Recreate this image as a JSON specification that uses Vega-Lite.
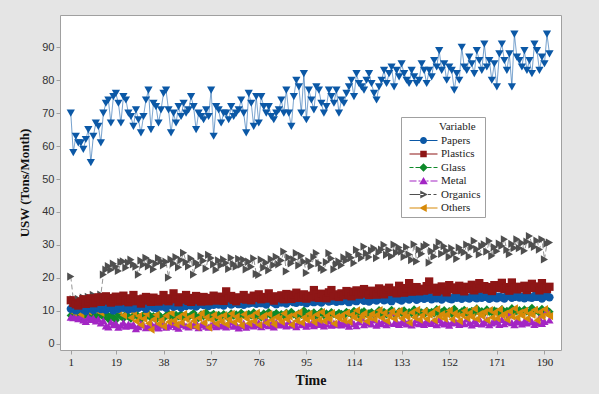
{
  "$schema": "https://vega.github.io/schema/vega-lite/v6.json",
  "width": 501,
  "height": 335,
  "autosize": {"type": "none"},
  "padding": {"left": 60, "top": 15, "right": 38, "bottom": 44},
  "background": "#e5e5e5",
  "config": {"view": {"fill": "white", "stroke": "#a0a0a0", "strokeWidth": 1}},
  "data": {"values": [
{"t":1,"Papers":10.6,"Plastics":13.2,"Glass":8.6,"Metal":8.1,"Organics":20.4,"Others":12.8,"Total":70},
{"t":2,"Papers":11.2,"Plastics":12.4,"Glass":9.1,"Metal":7.9,"Organics":13.5,"Others":9.5,"Total":58},
{"t":3,"Papers":10.1,"Plastics":12.0,"Glass":8.2,"Metal":8.3,"Organics":12.8,"Others":11.6,"Total":63},
{"t":4,"Papers":10.8,"Plastics":11.6,"Glass":8.9,"Metal":7.6,"Organics":13.6,"Others":13.1,"Total":61},
{"t":5,"Papers":11.5,"Plastics":12.8,"Glass":7.8,"Metal":8.4,"Organics":12.4,"Others":8.9,"Total":61},
{"t":6,"Papers":10.4,"Plastics":13.5,"Glass":8.5,"Metal":7.2,"Organics":14.0,"Others":10.7,"Total":59},
{"t":7,"Papers":9.9,"Plastics":12.1,"Glass":9.3,"Metal":6.8,"Organics":12.9,"Others":12.4,"Total":62},
{"t":8,"Papers":10.9,"Plastics":12.9,"Glass":8.0,"Metal":8.0,"Organics":14.2,"Others":9.8,"Total":65},
{"t":9,"Papers":11.3,"Plastics":13.8,"Glass":8.7,"Metal":7.4,"Organics":13.1,"Others":11.9,"Total":55},
{"t":10,"Papers":10.2,"Plastics":12.3,"Glass":9.0,"Metal":7.8,"Organics":14.8,"Others":13.3,"Total":63},
{"t":11,"Papers":10.7,"Plastics":13.0,"Glass":7.6,"Metal":6.9,"Organics":13.7,"Others":10.2,"Total":67},
{"t":12,"Papers":11.1,"Plastics":14.1,"Glass":8.4,"Metal":7.5,"Organics":12.6,"Others":12.0,"Total":66},
{"t":13,"Papers":10.5,"Plastics":12.7,"Glass":8.9,"Metal":6.3,"Organics":14.9,"Others":9.4,"Total":61},
{"t":14,"Papers":11.0,"Plastics":13.6,"Glass":8.1,"Metal":7.0,"Organics":21.0,"Others":11.5,"Total":70},
{"t":15,"Papers":10.3,"Plastics":14.4,"Glass":9.2,"Metal":5.4,"Organics":22.5,"Others":13.6,"Total":73},
{"t":16,"Papers":11.6,"Plastics":13.1,"Glass":7.5,"Metal":5.1,"Organics":23.6,"Others":14.0,"Total":74},
{"t":17,"Papers":10.8,"Plastics":12.5,"Glass":8.6,"Metal":6.6,"Organics":22.4,"Others":12.2,"Total":67},
{"t":18,"Papers":10.1,"Plastics":13.9,"Glass":8.0,"Metal":5.8,"Organics":24.3,"Others":10.8,"Total":75},
{"t":19,"Papers":11.4,"Plastics":14.3,"Glass":7.2,"Metal":6.2,"Organics":23.4,"Others":13.5,"Total":76},
{"t":20,"Papers":10.6,"Plastics":12.8,"Glass":8.8,"Metal":5.0,"Organics":22.1,"Others":9.9,"Total":73},
{"t":21,"Papers":11.2,"Plastics":13.4,"Glass":8.3,"Metal":5.6,"Organics":24.8,"Others":11.7,"Total":67},
{"t":22,"Papers":10.9,"Plastics":14.6,"Glass":7.7,"Metal":6.4,"Organics":25.0,"Others":8.6,"Total":75},
{"t":23,"Papers":11.7,"Plastics":13.0,"Glass":8.9,"Metal":5.3,"Organics":23.1,"Others":12.9,"Total":74},
{"t":24,"Papers":10.4,"Plastics":12.6,"Glass":8.2,"Metal":6.0,"Organics":24.6,"Others":10.3,"Total":70},
{"t":25,"Papers":11.1,"Plastics":13.8,"Glass":7.6,"Metal":5.5,"Organics":25.5,"Others":7.9,"Total":69},
{"t":26,"Papers":10.7,"Plastics":14.8,"Glass":8.5,"Metal":5.9,"Organics":24.1,"Others":9.6,"Total":66},
{"t":27,"Papers":11.5,"Plastics":12.9,"Glass":9.1,"Metal":4.6,"Organics":23.4,"Others":6.8,"Total":71},
{"t":28,"Papers":10.9,"Plastics":13.5,"Glass":8.0,"Metal":5.2,"Organics":21.0,"Others":8.4,"Total":68},
{"t":29,"Papers":11.8,"Plastics":12.2,"Glass":7.4,"Metal":6.1,"Organics":25.2,"Others":5.7,"Total":64},
{"t":30,"Papers":11.2,"Plastics":13.7,"Glass":8.7,"Metal":5.7,"Organics":24.0,"Others":7.6,"Total":69},
{"t":31,"Papers":10.6,"Plastics":14.2,"Glass":8.2,"Metal":4.9,"Organics":26.1,"Others":9.1,"Total":74},
{"t":32,"Papers":11.4,"Plastics":13.1,"Glass":9.0,"Metal":5.4,"Organics":23.5,"Others":6.2,"Total":77},
{"t":33,"Papers":11.9,"Plastics":12.7,"Glass":7.8,"Metal":6.3,"Organics":25.0,"Others":4.3,"Total":65},
{"t":34,"Papers":11.0,"Plastics":14.0,"Glass":8.4,"Metal":5.1,"Organics":22.6,"Others":7.4,"Total":73},
{"t":35,"Papers":10.8,"Plastics":13.3,"Glass":7.3,"Metal":5.8,"Organics":24.3,"Others":8.8,"Total":72},
{"t":36,"Papers":11.6,"Plastics":12.8,"Glass":8.9,"Metal":4.8,"Organics":26.0,"Others":6.0,"Total":67},
{"t":37,"Papers":11.3,"Plastics":13.6,"Glass":8.1,"Metal":5.6,"Organics":25.1,"Others":7.2,"Total":71},
{"t":38,"Papers":11.9,"Plastics":14.8,"Glass":7.7,"Metal":6.2,"Organics":23.8,"Others":5.3,"Total":76},
{"t":39,"Papers":10.9,"Plastics":13.2,"Glass":8.6,"Metal":5.0,"Organics":24.9,"Others":8.5,"Total":77},
{"t":40,"Papers":11.7,"Plastics":12.9,"Glass":9.2,"Metal":5.3,"Organics":20.1,"Others":6.6,"Total":71},
{"t":41,"Papers":12.1,"Plastics":13.8,"Glass":8.0,"Metal":6.5,"Organics":25.6,"Others":9.3,"Total":64},
{"t":42,"Papers":11.2,"Plastics":15.3,"Glass":7.5,"Metal":5.9,"Organics":24.4,"Others":7.0,"Total":70},
{"t":43,"Papers":11.5,"Plastics":13.5,"Glass":8.8,"Metal":5.2,"Organics":26.3,"Others":5.8,"Total":67},
{"t":44,"Papers":12.3,"Plastics":12.6,"Glass":8.3,"Metal":4.7,"Organics":23.2,"Others":8.1,"Total":72},
{"t":45,"Papers":11.0,"Plastics":14.1,"Glass":9.0,"Metal":5.8,"Organics":25.4,"Others":6.4,"Total":69},
{"t":46,"Papers":11.8,"Plastics":13.4,"Glass":7.9,"Metal":6.0,"Organics":27.6,"Others":9.0,"Total":73},
{"t":47,"Papers":11.4,"Plastics":14.8,"Glass":8.5,"Metal":5.4,"Organics":24.8,"Others":7.5,"Total":70},
{"t":48,"Papers":12.0,"Plastics":13.0,"Glass":8.1,"Metal":5.1,"Organics":23.5,"Others":5.5,"Total":71},
{"t":49,"Papers":11.6,"Plastics":12.7,"Glass":8.7,"Metal":5.9,"Organics":25.9,"Others":8.3,"Total":75},
{"t":50,"Papers":12.2,"Plastics":13.9,"Glass":9.3,"Metal":5.5,"Organics":21.0,"Others":6.9,"Total":72},
{"t":51,"Papers":11.3,"Plastics":14.5,"Glass":8.2,"Metal":6.4,"Organics":24.7,"Others":5.1,"Total":65},
{"t":52,"Papers":11.9,"Plastics":13.2,"Glass":7.8,"Metal":4.9,"Organics":23.9,"Others":7.8,"Total":70},
{"t":53,"Papers":12.5,"Plastics":12.8,"Glass":8.9,"Metal":5.7,"Organics":26.6,"Others":9.2,"Total":69},
{"t":54,"Papers":11.7,"Plastics":14.2,"Glass":8.4,"Metal":6.1,"Organics":25.2,"Others":6.3,"Total":68},
{"t":55,"Papers":12.0,"Plastics":13.6,"Glass":9.5,"Metal":5.3,"Organics":22.8,"Others":8.0,"Total":71},
{"t":56,"Papers":11.4,"Plastics":12.9,"Glass":8.0,"Metal":5.0,"Organics":27.0,"Others":4.9,"Total":69},
{"t":57,"Papers":12.3,"Plastics":13.9,"Glass":8.6,"Metal":5.6,"Organics":26.0,"Others":7.3,"Total":77},
{"t":58,"Papers":11.8,"Plastics":14.6,"Glass":9.1,"Metal":6.3,"Organics":24.1,"Others":8.7,"Total":63},
{"t":59,"Papers":12.6,"Plastics":13.1,"Glass":7.9,"Metal":5.2,"Organics":22.4,"Others":6.1,"Total":72},
{"t":60,"Papers":11.9,"Plastics":13.7,"Glass":8.8,"Metal":5.8,"Organics":25.3,"Others":7.9,"Total":71},
{"t":61,"Papers":12.2,"Plastics":14.3,"Glass":8.3,"Metal":5.4,"Organics":23.8,"Others":6.7,"Total":67},
{"t":62,"Papers":11.6,"Plastics":13.0,"Glass":9.0,"Metal":6.0,"Organics":25.6,"Others":8.6,"Total":70},
{"t":63,"Papers":12.4,"Plastics":15.9,"Glass":8.6,"Metal":5.1,"Organics":24.5,"Others":5.9,"Total":70},
{"t":64,"Papers":12.8,"Plastics":13.8,"Glass":7.7,"Metal":5.7,"Organics":22.7,"Others":7.4,"Total":68},
{"t":65,"Papers":11.9,"Plastics":14.5,"Glass":9.2,"Metal":6.6,"Organics":26.1,"Others":9.1,"Total":72},
{"t":66,"Papers":12.3,"Plastics":13.3,"Glass":8.5,"Metal":5.3,"Organics":24.2,"Others":6.5,"Total":69},
{"t":67,"Papers":12.9,"Plastics":12.9,"Glass":8.9,"Metal":5.9,"Organics":23.4,"Others":8.2,"Total":70},
{"t":68,"Papers":12.0,"Plastics":14.1,"Glass":8.1,"Metal":4.8,"Organics":25.8,"Others":7.0,"Total":71},
{"t":69,"Papers":12.5,"Plastics":13.6,"Glass":9.4,"Metal":5.5,"Organics":24.0,"Others":5.6,"Total":74},
{"t":70,"Papers":11.8,"Plastics":14.8,"Glass":8.7,"Metal":6.2,"Organics":25.5,"Others":8.9,"Total":70},
{"t":71,"Papers":12.7,"Plastics":13.4,"Glass":8.2,"Metal":5.0,"Organics":22.6,"Others":7.7,"Total":64},
{"t":72,"Papers":12.2,"Plastics":14.0,"Glass":9.1,"Metal":5.6,"Organics":24.9,"Others":6.2,"Total":76},
{"t":73,"Papers":12.4,"Plastics":13.2,"Glass":8.6,"Metal":6.1,"Organics":23.4,"Others":8.4,"Total":73},
{"t":74,"Papers":13.0,"Plastics":14.6,"Glass":9.5,"Metal":5.4,"Organics":25.9,"Others":6.8,"Total":66},
{"t":75,"Papers":12.1,"Plastics":13.9,"Glass":8.3,"Metal":5.8,"Organics":21.2,"Others":9.4,"Total":75},
{"t":76,"Papers":12.6,"Plastics":15.0,"Glass":8.9,"Metal":6.4,"Organics":20.9,"Others":5.7,"Total":67},
{"t":77,"Papers":12.3,"Plastics":13.5,"Glass":8.0,"Metal":5.2,"Organics":25.5,"Others":7.9,"Total":75},
{"t":78,"Papers":12.9,"Plastics":14.2,"Glass":9.2,"Metal":5.9,"Organics":23.1,"Others":8.5,"Total":72},
{"t":79,"Papers":11.9,"Plastics":13.7,"Glass":8.7,"Metal":7.3,"Organics":24.6,"Others":6.3,"Total":70},
{"t":80,"Papers":12.7,"Plastics":15.3,"Glass":9.6,"Metal":5.5,"Organics":22.3,"Others":9.0,"Total":72},
{"t":81,"Papers":13.2,"Plastics":14.0,"Glass":8.4,"Metal":6.0,"Organics":25.7,"Others":7.2,"Total":69},
{"t":82,"Papers":12.4,"Plastics":13.1,"Glass":8.8,"Metal":5.1,"Organics":23.9,"Others":5.9,"Total":68},
{"t":83,"Papers":12.0,"Plastics":14.4,"Glass":9.3,"Metal":6.5,"Organics":26.4,"Others":8.1,"Total":70},
{"t":84,"Papers":12.8,"Plastics":13.8,"Glass":8.5,"Metal":5.7,"Organics":24.1,"Others":7.6,"Total":71},
{"t":85,"Papers":12.5,"Plastics":14.7,"Glass":9.0,"Metal":5.9,"Organics":25.3,"Others":6.6,"Total":74},
{"t":86,"Papers":13.1,"Plastics":13.5,"Glass":8.6,"Metal":6.3,"Organics":28.0,"Others":9.2,"Total":70},
{"t":87,"Papers":12.2,"Plastics":15.1,"Glass":9.4,"Metal":5.4,"Organics":22.0,"Others":7.4,"Total":77},
{"t":88,"Papers":12.9,"Plastics":14.2,"Glass":8.2,"Metal":6.8,"Organics":26.2,"Others":8.3,"Total":70},
{"t":89,"Papers":13.3,"Plastics":13.6,"Glass":9.7,"Metal":5.6,"Organics":24.4,"Others":5.8,"Total":66},
{"t":90,"Papers":12.6,"Plastics":14.9,"Glass":8.9,"Metal":6.1,"Organics":25.6,"Others":8.8,"Total":75},
{"t":91,"Papers":12.4,"Plastics":15.5,"Glass":8.5,"Metal":5.2,"Organics":27.5,"Others":7.0,"Total":80},
{"t":92,"Papers":13.0,"Plastics":13.9,"Glass":9.2,"Metal":6.6,"Organics":23.8,"Others":9.5,"Total":78},
{"t":93,"Papers":12.7,"Plastics":14.3,"Glass":8.8,"Metal":5.8,"Organics":26.7,"Others":6.4,"Total":70},
{"t":94,"Papers":13.4,"Plastics":15.0,"Glass":10.1,"Metal":6.4,"Organics":24.9,"Others":8.0,"Total":82},
{"t":95,"Papers":12.3,"Plastics":13.7,"Glass":8.6,"Metal":5.3,"Organics":21.5,"Others":7.3,"Total":68},
{"t":96,"Papers":12.8,"Plastics":14.6,"Glass":9.3,"Metal":6.0,"Organics":25.1,"Others":9.1,"Total":77},
{"t":97,"Papers":13.1,"Plastics":14.1,"Glass":8.9,"Metal":6.2,"Organics":23.6,"Others":7.8,"Total":74},
{"t":98,"Papers":12.6,"Plastics":16.3,"Glass":9.5,"Metal":5.5,"Organics":26.3,"Others":6.5,"Total":71},
{"t":99,"Papers":13.3,"Plastics":14.8,"Glass":8.4,"Metal":6.7,"Organics":27.5,"Others":8.9,"Total":78},
{"t":100,"Papers":12.9,"Plastics":13.9,"Glass":9.1,"Metal":5.9,"Organics":24.5,"Others":7.2,"Total":77},
{"t":101,"Papers":12.5,"Plastics":15.2,"Glass":9.8,"Metal":6.3,"Organics":23.0,"Others":9.6,"Total":73},
{"t":102,"Papers":13.2,"Plastics":14.5,"Glass":8.7,"Metal":5.4,"Organics":22.4,"Others":6.9,"Total":70},
{"t":103,"Papers":13.6,"Plastics":13.8,"Glass":9.2,"Metal":6.0,"Organics":24.8,"Others":8.4,"Total":72},
{"t":104,"Papers":12.8,"Plastics":15.6,"Glass":8.5,"Metal":6.9,"Organics":27.5,"Others":7.5,"Total":77},
{"t":105,"Papers":13.0,"Plastics":16.3,"Glass":9.6,"Metal":5.6,"Organics":25.9,"Others":9.3,"Total":75},
{"t":106,"Papers":13.5,"Plastics":14.4,"Glass":9.0,"Metal":6.2,"Organics":22.6,"Others":6.1,"Total":73},
{"t":107,"Papers":12.7,"Plastics":15.0,"Glass":8.8,"Metal":5.8,"Organics":24.2,"Others":8.2,"Total":77},
{"t":108,"Papers":13.3,"Plastics":14.2,"Glass":9.4,"Metal":6.5,"Organics":25.0,"Others":7.7,"Total":70},
{"t":109,"Papers":12.9,"Plastics":15.3,"Glass":9.1,"Metal":5.7,"Organics":23.8,"Others":8.6,"Total":74},
{"t":110,"Papers":13.4,"Plastics":14.7,"Glass":8.6,"Metal":6.4,"Organics":26.2,"Others":7.0,"Total":73},
{"t":111,"Papers":13.1,"Plastics":16.0,"Glass":9.7,"Metal":6.0,"Organics":25.3,"Others":9.4,"Total":76},
{"t":112,"Papers":12.6,"Plastics":15.1,"Glass":9.3,"Metal":5.3,"Organics":27.0,"Others":6.7,"Total":78},
{"t":113,"Papers":13.7,"Plastics":14.4,"Glass":8.9,"Metal":6.8,"Organics":26.1,"Others":8.8,"Total":80},
{"t":114,"Papers":13.2,"Plastics":15.8,"Glass":10.0,"Metal":6.1,"Organics":24.5,"Others":7.9,"Total":75},
{"t":115,"Papers":12.9,"Plastics":16.2,"Glass":9.2,"Metal":5.5,"Organics":28.5,"Others":10.1,"Total":82},
{"t":116,"Papers":13.5,"Plastics":14.9,"Glass":8.7,"Metal":6.6,"Organics":27.2,"Others":7.3,"Total":79},
{"t":117,"Papers":13.8,"Plastics":15.5,"Glass":9.5,"Metal":7.9,"Organics":26.0,"Others":8.5,"Total":78},
{"t":118,"Papers":13.0,"Plastics":16.6,"Glass":9.9,"Metal":5.8,"Organics":29.5,"Others":9.2,"Total":77},
{"t":119,"Papers":13.4,"Plastics":15.2,"Glass":9.0,"Metal":6.3,"Organics":27.4,"Others":6.8,"Total":80},
{"t":120,"Papers":12.8,"Plastics":14.8,"Glass":9.3,"Metal":6.9,"Organics":26.3,"Others":8.0,"Total":82},
{"t":121,"Papers":13.3,"Plastics":16.1,"Glass":9.6,"Metal":6.0,"Organics":28.3,"Others":9.0,"Total":79},
{"t":122,"Papers":13.9,"Plastics":15.4,"Glass":8.8,"Metal":7.2,"Organics":29.0,"Others":7.4,"Total":76},
{"t":123,"Papers":13.1,"Plastics":14.9,"Glass":9.4,"Metal":5.6,"Organics":26.0,"Others":8.7,"Total":74},
{"t":124,"Papers":13.6,"Plastics":16.8,"Glass":10.2,"Metal":6.5,"Organics":27.8,"Others":10.2,"Total":78},
{"t":125,"Papers":14.0,"Plastics":15.6,"Glass":9.1,"Metal":6.1,"Organics":28.6,"Others":7.8,"Total":80},
{"t":126,"Papers":13.2,"Plastics":15.0,"Glass":9.7,"Metal":7.0,"Organics":30.0,"Others":9.3,"Total":83},
{"t":127,"Papers":13.7,"Plastics":16.4,"Glass":8.9,"Metal":5.8,"Organics":27.0,"Others":6.9,"Total":79},
{"t":128,"Papers":13.4,"Plastics":17.0,"Glass":9.5,"Metal":6.4,"Organics":28.4,"Others":8.4,"Total":82},
{"t":129,"Papers":12.9,"Plastics":15.7,"Glass":10.3,"Metal":9.5,"Organics":26.5,"Others":9.8,"Total":84},
{"t":130,"Papers":13.8,"Plastics":16.2,"Glass":9.2,"Metal":6.2,"Organics":30.1,"Others":7.6,"Total":78},
{"t":131,"Papers":14.2,"Plastics":15.3,"Glass":9.0,"Metal":6.7,"Organics":27.6,"Others":8.9,"Total":83},
{"t":132,"Papers":13.5,"Plastics":17.6,"Glass":9.8,"Metal":5.9,"Organics":29.2,"Others":10.0,"Total":81},
{"t":133,"Papers":13.1,"Plastics":16.0,"Glass":9.4,"Metal":6.5,"Organics":28.0,"Others":7.7,"Total":85},
{"t":134,"Papers":13.7,"Plastics":15.5,"Glass":10.1,"Metal":7.1,"Organics":26.4,"Others":9.1,"Total":82},
{"t":135,"Papers":14.1,"Plastics":16.9,"Glass":9.0,"Metal":6.0,"Organics":29.3,"Others":8.2,"Total":80},
{"t":136,"Papers":13.4,"Plastics":18.4,"Glass":9.6,"Metal":6.8,"Organics":27.1,"Others":6.4,"Total":79},
{"t":137,"Papers":13.9,"Plastics":15.8,"Glass":9.3,"Metal":5.7,"Organics":25.4,"Others":9.5,"Total":83},
{"t":138,"Papers":14.6,"Plastics":16.5,"Glass":10.4,"Metal":6.3,"Organics":30.2,"Others":8.0,"Total":81},
{"t":139,"Papers":13.3,"Plastics":17.2,"Glass":9.1,"Metal":7.4,"Organics":25.0,"Others":10.3,"Total":79},
{"t":140,"Papers":13.8,"Plastics":15.9,"Glass":9.8,"Metal":6.1,"Organics":28.6,"Others":7.3,"Total":80},
{"t":141,"Papers":14.2,"Plastics":16.7,"Glass":9.5,"Metal":6.6,"Organics":27.3,"Others":8.6,"Total":85},
{"t":142,"Papers":13.6,"Plastics":16.1,"Glass":8.9,"Metal":5.9,"Organics":29.5,"Others":9.9,"Total":83},
{"t":143,"Papers":13.9,"Plastics":17.5,"Glass":10.0,"Metal":7.0,"Organics":30.0,"Others":7.5,"Total":79},
{"t":144,"Papers":14.4,"Plastics":18.9,"Glass":9.4,"Metal":6.4,"Organics":24.6,"Others":8.8,"Total":83},
{"t":145,"Papers":13.5,"Plastics":16.4,"Glass":9.7,"Metal":6.2,"Organics":28.1,"Others":9.4,"Total":81},
{"t":146,"Papers":14.1,"Plastics":17.0,"Glass":9.2,"Metal":6.9,"Organics":26.5,"Others":7.1,"Total":86},
{"t":147,"Papers":13.8,"Plastics":15.8,"Glass":10.5,"Metal":5.8,"Organics":29.2,"Others":10.5,"Total":84},
{"t":148,"Papers":14.5,"Plastics":16.9,"Glass":9.0,"Metal":7.3,"Organics":30.8,"Others":8.3,"Total":89},
{"t":149,"Papers":13.4,"Plastics":17.4,"Glass":9.6,"Metal":6.4,"Organics":27.3,"Others":9.0,"Total":83},
{"t":150,"Papers":14.0,"Plastics":16.2,"Glass":10.2,"Metal":6.0,"Organics":29.6,"Others":7.6,"Total":85},
{"t":151,"Papers":14.7,"Plastics":15.6,"Glass":9.4,"Metal":6.7,"Organics":28.2,"Others":8.9,"Total":80},
{"t":152,"Papers":13.7,"Plastics":17.8,"Glass":9.9,"Metal":5.6,"Organics":26.4,"Others":10.1,"Total":84},
{"t":153,"Papers":13.5,"Plastics":16.5,"Glass":9.1,"Metal":6.3,"Organics":29.0,"Others":7.4,"Total":83},
{"t":154,"Papers":14.2,"Plastics":17.1,"Glass":10.6,"Metal":7.1,"Organics":27.5,"Others":9.2,"Total":77},
{"t":155,"Papers":13.9,"Plastics":16.3,"Glass":9.5,"Metal":6.5,"Organics":25.8,"Others":8.5,"Total":82},
{"t":156,"Papers":14.6,"Plastics":17.6,"Glass":9.3,"Metal":5.9,"Organics":29.2,"Others":6.9,"Total":80},
{"t":157,"Papers":13.6,"Plastics":16.8,"Glass":9.8,"Metal":6.8,"Organics":28.3,"Others":8.7,"Total":90},
{"t":158,"Papers":14.3,"Plastics":15.9,"Glass":10.3,"Metal":6.1,"Organics":27.7,"Others":10.0,"Total":84},
{"t":159,"Papers":14.0,"Plastics":17.3,"Glass":9.2,"Metal":7.5,"Organics":30.1,"Others":7.8,"Total":83},
{"t":160,"Papers":13.7,"Plastics":16.6,"Glass":9.7,"Metal":6.4,"Organics":26.5,"Others":9.3,"Total":87},
{"t":161,"Papers":14.4,"Plastics":17.9,"Glass":10.0,"Metal":5.7,"Organics":29.4,"Others":8.1,"Total":85},
{"t":162,"Papers":14.1,"Plastics":16.2,"Glass":9.4,"Metal":6.9,"Organics":31.2,"Others":10.6,"Total":82},
{"t":163,"Papers":13.8,"Plastics":17.0,"Glass":10.7,"Metal":6.2,"Organics":28.7,"Others":7.5,"Total":89},
{"t":164,"Papers":14.8,"Plastics":18.4,"Glass":9.6,"Metal":7.6,"Organics":27.1,"Others":9.0,"Total":86},
{"t":165,"Papers":13.9,"Plastics":16.7,"Glass":9.9,"Metal":6.0,"Organics":29.6,"Others":8.4,"Total":83},
{"t":166,"Papers":14.2,"Plastics":17.5,"Glass":9.3,"Metal":6.5,"Organics":30.2,"Others":9.7,"Total":91},
{"t":167,"Papers":14.5,"Plastics":16.4,"Glass":10.4,"Metal":7.2,"Organics":28.0,"Others":7.2,"Total":84},
{"t":168,"Papers":13.6,"Plastics":17.2,"Glass":9.7,"Metal":5.8,"Organics":31.2,"Others":10.2,"Total":86},
{"t":169,"Papers":14.0,"Plastics":16.0,"Glass":9.5,"Metal":6.3,"Organics":26.7,"Others":8.0,"Total":80},
{"t":170,"Papers":14.6,"Plastics":17.8,"Glass":10.1,"Metal":7.0,"Organics":29.3,"Others":9.5,"Total":85},
{"t":171,"Papers":13.8,"Plastics":16.9,"Glass":9.8,"Metal":6.6,"Organics":28.1,"Others":7.7,"Total":78},
{"t":172,"Papers":14.3,"Plastics":17.4,"Glass":9.2,"Metal":5.9,"Organics":30.4,"Others":10.4,"Total":88},
{"t":173,"Papers":14.1,"Plastics":18.5,"Glass":10.5,"Metal":7.4,"Organics":29.7,"Others":8.6,"Total":91},
{"t":174,"Papers":13.7,"Plastics":16.6,"Glass":9.6,"Metal":6.1,"Organics":31.7,"Others":9.1,"Total":86},
{"t":175,"Papers":14.5,"Plastics":17.2,"Glass":10.0,"Metal":6.8,"Organics":28.5,"Others":7.3,"Total":83},
{"t":176,"Papers":14.9,"Plastics":16.1,"Glass":9.4,"Metal":8.8,"Organics":27.2,"Others":9.8,"Total":88},
{"t":177,"Papers":13.9,"Plastics":18.6,"Glass":10.8,"Metal":6.4,"Organics":30.3,"Others":8.2,"Total":78},
{"t":178,"Papers":14.2,"Plastics":17.0,"Glass":9.7,"Metal":5.8,"Organics":29.1,"Others":10.7,"Total":94},
{"t":179,"Papers":14.6,"Plastics":16.5,"Glass":9.9,"Metal":7.1,"Organics":31.7,"Others":7.9,"Total":87},
{"t":180,"Papers":14.0,"Plastics":17.3,"Glass":10.2,"Metal":6.6,"Organics":29.0,"Others":9.4,"Total":86},
{"t":181,"Papers":14.3,"Plastics":16.8,"Glass":9.6,"Metal":6.0,"Organics":30.6,"Others":8.5,"Total":84},
{"t":182,"Papers":13.8,"Plastics":17.6,"Glass":10.4,"Metal":6.9,"Organics":28.2,"Others":10.0,"Total":89},
{"t":183,"Papers":14.7,"Plastics":16.3,"Glass":9.8,"Metal":6.3,"Organics":31.0,"Others":7.6,"Total":83},
{"t":184,"Papers":14.1,"Plastics":17.1,"Glass":9.5,"Metal":7.5,"Organics":32.7,"Others":9.2,"Total":86},
{"t":185,"Papers":13.9,"Plastics":18.2,"Glass":10.9,"Metal":6.7,"Organics":30.2,"Others":8.8,"Total":82},
{"t":186,"Papers":14.5,"Plastics":16.9,"Glass":9.9,"Metal":5.9,"Organics":29.4,"Others":10.3,"Total":91},
{"t":187,"Papers":14.2,"Plastics":17.4,"Glass":10.1,"Metal":6.4,"Organics":31.3,"Others":7.1,"Total":89},
{"t":188,"Papers":14.8,"Plastics":16.2,"Glass":9.4,"Metal":7.8,"Organics":28.6,"Others":9.6,"Total":83},
{"t":189,"Papers":13.7,"Plastics":18.4,"Glass":10.6,"Metal":6.2,"Organics":31.7,"Others":8.3,"Total":87},
{"t":190,"Papers":14.4,"Plastics":17.0,"Glass":9.8,"Metal":6.8,"Organics":25.6,"Others":10.5,"Total":85},
{"t":191,"Papers":14.6,"Plastics":16.6,"Glass":10.3,"Metal":10.1,"Organics":30.4,"Others":8.9,"Total":94},
{"t":192,"Papers":14.1,"Plastics":17.3,"Glass":9.7,"Metal":7.2,"Organics":30.7,"Others":8.4,"Total":88}
  ]},
  "transform": [
    {"fold": ["Papers", "Plastics", "Glass", "Metal", "Organics", "Others", "Total"], "as": ["Variable", "USW"]}
  ],
  "encoding": {
    "x": {
      "field": "t", "type": "quantitative",
      "scale": {"domain": [-3.3, 196.6], "nice": false, "zero": false},
      "axis": {
        "title": "Time", "values": [1, 19, 38, 57, 76, 95, 114, 133, 152, 171, 190],
        "grid": false, "domain": false, "tickColor": "#a0a0a0", "tickSize": 4,
        "labelFont": "Liberation Serif", "labelFontSize": 11, "labelColor": "#222222", "labelPadding": 2, "labelFlush": false,
        "titleFont": "Liberation Serif", "titleFontSize": 14, "titleFontWeight": "bold", "titleColor": "#111111", "titlePadding": 6
      }
    },
    "y": {
      "field": "USW", "type": "quantitative",
      "scale": {"domain": [-1.9, 99.8], "nice": false, "zero": false},
      "axis": {
        "title": "USW (Tons/Month)", "values": [0, 10, 20, 30, 40, 50, 60, 70, 80, 90],
        "grid": false, "domain": false, "tickColor": "#a0a0a0", "tickSize": 4,
        "labelFont": "Liberation Sans", "labelFontSize": 11, "labelColor": "#333333", "labelPadding": 2,
        "titleFont": "Liberation Serif", "titleFontSize": 13, "titleFontWeight": "bold", "titleColor": "#111111", "titlePadding": 10
      }
    },
    "color": {
      "field": "Variable", "type": "nominal",
      "scale": {
        "domain": ["Papers", "Plastics", "Glass", "Metal", "Organics", "Others", "Total"],
        "range": ["#0b58a6", "#8e1616", "#0e8a2a", "#a326c4", "#4f4f4f", "#d78a08", "#0b58a6"]
      },
      "legend": {
        "orient": "none", "legendX": 341, "legendY": 102,
        "values": ["Papers", "Plastics", "Glass", "Metal", "Organics", "Others"],
        "title": "Variable", "titleFont": "Liberation Serif", "titleFontSize": 11, "titleFontWeight": "normal",
        "titleColor": "#222222", "titleAnchor": "start", "titlePadding": 3,
        "labelFont": "Liberation Serif", "labelFontSize": 11, "labelColor": "#222222",
        "fillColor": "white", "strokeColor": "#a0a0a0", "padding": 4,
        "symbolSize": 100, "symbolOffset": 13, "labelOffset": 12, "rowPadding": 1.5, "symbolStrokeWidth": 0, "symbolOpacity": 1,
        "encode": {
          "title": {
            "update": {
              "dx": {"value": 34}
            }
          },
          "symbols": {
            "update": {
              "shape": {"signal": "datum.value === 'Papers' ? 'M-2.8,-0.1H2.8V0.1H-2.8Z M0.7,0A0.7,0.7,0,1,1,-0.7,0A0.7,0.7,0,1,1,0.7,0Z' : datum.value === 'Plastics' ? 'M-2.8,-0.1H2.8V0.1H-2.8Z M-0.65,-0.65H0.65V0.65H-0.65Z' : datum.value === 'Glass' ? 'M-2.8,-0.1H-2V0.1H-2.8Z M-1.6,-0.1H-0.8V0.1H-1.6Z M0.8,-0.1H1.6V0.1H0.8Z M2,-0.1H2.8V0.1H2Z M0,-0.85L0.85,0L0,0.85L-0.85,0Z' : datum.value === 'Metal' ? 'M-2.8,-0.1H-1.4V0.1H-2.8Z M-1,-0.1H-0.6V0.1H-1Z M0.6,-0.1H1V0.1H0.6Z M1.4,-0.1H2.8V0.1H1.4Z M0,-0.8L0.85,0.65H-0.85Z' : datum.value === 'Organics' ? 'M-2.8,-0.1H0V0.1H-2.8Z M0.9,-0.1H1.5V0.1H0.9Z M2,-0.1H2.6V0.1H2Z M0.85,0L-0.65,-0.8V0.8Z' : 'M-2.8,-0.1H2.8V0.1H-2.8Z M-0.85,0L0.65,-0.8V0.8Z'"},
              "fill": {"scale": "color", "field": "value"},
              "stroke": {"value": "transparent"},
              "strokeWidth": {"value": 0},
              "opacity": {"value": 1}
            }
          }
        }
      }
    }
  },
  "layer": [
    {
      "mark": {"type": "line", "strokeWidth": 1, "opacity": 0.6},
      "encoding": {
        "strokeDash": {
          "field": "Variable", "type": "nominal", "legend": null,
          "scale": {
            "domain": ["Glass", "Metal", "Organics", "Papers", "Plastics", "Others", "Total"],
            "range": [[4, 2], [6, 2, 2, 2], [5, 3], [1, 0], [1, 0], [1, 0], [1, 0]]
          }
        }
      }
    },
    {
      "mark": {"type": "point", "filled": true, "size": 68, "opacity": 1},
      "encoding": {
        "shape": {
          "field": "Variable", "type": "nominal", "legend": null,
          "scale": {
            "domain": ["Total", "Papers", "Plastics", "Glass", "Metal", "Organics", "Others"],
            "range": ["triangle-down", "circle", "square", "diamond", "triangle-up", "triangle-right", "triangle-left"]
          }
        },
        "order": {"field": "Variable", "sort": "ascending"}
      }
    }
  ]
}
